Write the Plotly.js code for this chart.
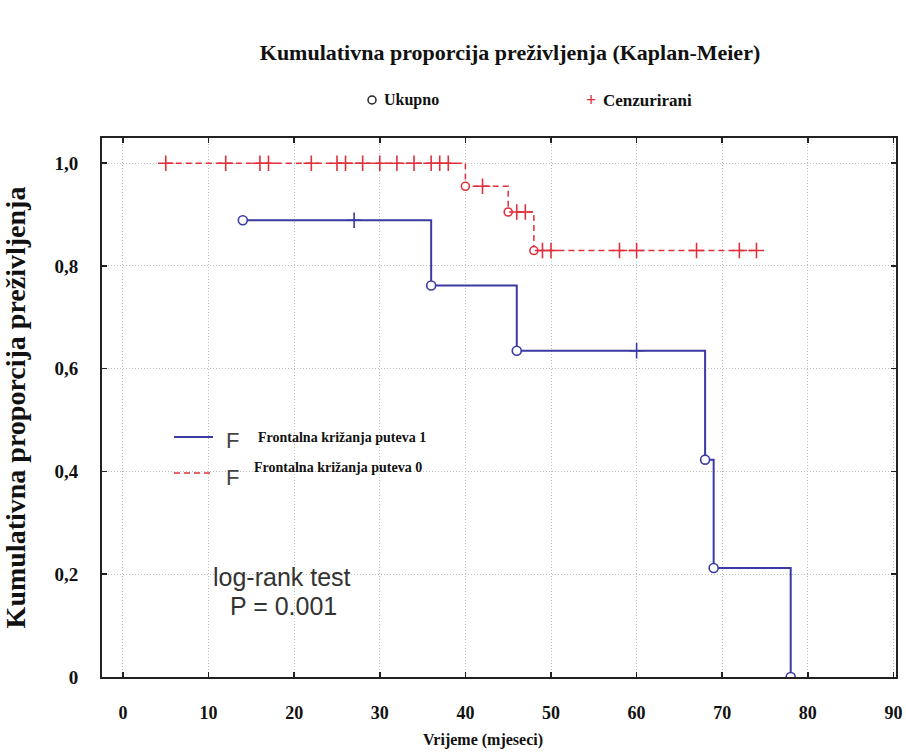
<!DOCTYPE html>
<html>
<head>
<meta charset="utf-8">
<script src="https://cdn.plot.ly/plotly-3.0.1.min.js"></script>
<style>html,body{margin:0;padding:0;background:#fff}</style>
</head>
<body>
<div id="chart" style="width:906px;height:752px"></div>
<script>
// Kaplan-Meier estimates: time (months), survival proportion, censored flag (1 = censored)
const groupNames = ['Frontalna križanja puteva 1', 'Frontalna križanja puteva 0'];

const timesG1 = [14, 27, 36, 46, 60, 68, 69, 78];
const survG1  = [0.889, 0.889, 0.762, 0.635, 0.635, 0.423, 0.212, 0];
const censG1  = [0, 1, 0, 0, 1, 0, 0, 0];

const timesG0 = [5, 12, 16, 17, 22, 25, 26, 28, 30, 32, 34, 36, 37, 38,
                 40, 42, 45, 46, 47, 48, 49, 50, 58, 60, 67, 72, 74];
const survG0  = [1, 1, 1, 1, 1, 1, 1, 1, 1, 1, 1, 1, 1, 1,
                 0.955, 0.955, 0.905, 0.905, 0.905, 0.83, 0.83, 0.83, 0.83, 0.83, 0.83, 0.83, 0.83];
const censG0  = [1, 1, 1, 1, 1, 1, 1, 1, 1, 1, 1, 1, 1, 1,
                 0, 1, 0, 1, 1, 0, 1, 1, 1, 1, 1, 1, 1];

const xTickVals = [0, 10, 20, 30, 40, 50, 60, 70, 80, 90];
const yTickVals = [0, 0.2, 0.4, 0.6, 0.8, 1.0];
const yTickText = ['0', '0,2', '0,4', '0,6', '0,8', '1,0'];

const BLUE = '#3a3aa4';
const RED = '#e0303c';
const SERIF = 'Liberation Serif, Times New Roman, serif';
const SANS = 'Liberation Sans, Arial, sans-serif';

// plot area in pixels, used to place the free-standing labels
const PL = 102, PR = 896, PT = 138, PB = 677;
const px = v => (v - PL) / (PR - PL);
const py = v => (PB - v) / (PB - PT);

function pick(arr, flags, want) {
  return arr.filter((_, i) => flags[i] === want);
}

function groupTraces(times, surv, cens, color, dash, width, circleSize, crossSize) {
  return [
    { // step curve
      x: times, y: surv, type: 'scatter', mode: 'lines',
      line: { shape: 'hv', color: color, width: width, dash: dash },
      showlegend: false, hoverinfo: 'skip'
    },
    { // complete observations (events)
      x: pick(times, cens, 0), y: pick(surv, cens, 0), type: 'scatter', mode: 'markers',
      marker: { symbol: 'circle', size: circleSize, color: '#ffffff', line: { color: color, width: 1.6 } },
      showlegend: false, hoverinfo: 'skip'
    },
    { // censored observations
      x: pick(times, cens, 1), y: pick(surv, cens, 1), type: 'scatter', mode: 'markers',
      marker: { symbol: 'cross-thin', size: crossSize, color: color, line: { color: color, width: 1.6 } },
      showlegend: false, hoverinfo: 'skip'
    }
  ];
}

const data = [
  ...groupTraces(timesG0, survG0, censG0, RED, '6px,4px', 1.5, 8, 11),
  ...groupTraces(timesG1, survG1, censG1, BLUE, 'solid', 2, 9, 11)
];

const axisCommon = {
  showline: true, linecolor: '#222', linewidth: 2, mirror: 'ticks',
  ticks: 'inside', ticklen: 5, tickcolor: '#222', tickwidth: 1.5,
  showgrid: true, gridcolor: '#bdbdbd', gridwidth: 1, griddash: '1px,2px',
  zeroline: false, fixedrange: true
};

const layout = {
  width: 906, height: 752,
  margin: { l: PL, r: 906 - PR, t: PT, b: 752 - PB, pad: 0 },
  paper_bgcolor: '#ffffff', plot_bgcolor: '#ffffff',
  showlegend: false,
  title: {
    text: '<b>Kumulativna proporcija preživljenja (Kaplan-Meier)</b>',
    font: { family: SERIF, size: 22, color: '#111' },
    xref: 'paper', x: px(510), xanchor: 'center',
    yref: 'container', y: 1 - 52 / 752, yanchor: 'middle'
  },
  xaxis: Object.assign({}, axisCommon, {
    range: [-2.45, 90.3],
    tickvals: xTickVals,
    ticktext: xTickVals.map(String),
    tickfont: { family: SERIF, size: 18, color: '#111', weight: 'bold' },
    ticklabelstandoff: 18
  }),
  yaxis: Object.assign({}, axisCommon, {
    range: [0, 1.049],
    tickvals: yTickVals,
    ticktext: yTickText,
    tickfont: { family: SERIF, size: 19, color: '#111', weight: 'bold' },
    ticklabelstandoff: 18,
    title: { text: '<b>Kumulativna proporcija preživljenja</b>', font: { family: SERIF, size: 28, color: '#111' }, standoff: 23 }
  }),
  shapes: [
    // key above the plot: circle marks an observed event
    { type: 'circle', xref: 'paper', yref: 'paper',
      x0: px(368), x1: px(376), y0: py(104), y1: py(96),
      line: { color: '#222', width: 1.5 }, fillcolor: 'rgba(0,0,0,0)' },
    // curve key inside the plot
    { type: 'line', xref: 'paper', yref: 'paper',
      x0: px(174), x1: px(213), y0: py(437), y1: py(437),
      line: { color: BLUE, width: 2 } },
    { type: 'line', xref: 'paper', yref: 'paper',
      x0: px(174), x1: px(213), y0: py(473), y1: py(473),
      line: { color: RED, width: 1.5, dash: '6px,4px' } }
  ],
  annotations: [
    // time axis caption
    { xref: 'paper', yref: 'paper', x: px(483), y: py(740), xanchor: 'center', yanchor: 'middle',
      text: '<b>Vrijeme (mjeseci)</b>', showarrow: false, font: { family: SERIF, size: 16, color: '#111' } },

    { xref: 'paper', yref: 'paper', x: px(382), y: py(100), xanchor: 'left', yanchor: 'middle',
      text: '<b>Ukupno</b>', showarrow: false, font: { family: SERIF, size: 16, color: '#111' } },
    { xref: 'paper', yref: 'paper', x: px(591), y: py(100), xanchor: 'center', yanchor: 'middle',
      text: '<b>+</b>', showarrow: false, font: { family: SERIF, size: 18, color: RED } },
    { xref: 'paper', yref: 'paper', x: px(601), y: py(100), xanchor: 'left', yanchor: 'middle',
      text: '<b>Cenzurirani</b>', showarrow: false, font: { family: SERIF, size: 17, color: '#111' } },

    { xref: 'paper', yref: 'paper', x: px(232), y: py(440), xanchor: 'center', yanchor: 'middle',
      text: 'F', showarrow: false, font: { family: SANS, size: 22, color: '#444' } },
    { xref: 'paper', yref: 'paper', x: px(256), y: py(437), xanchor: 'left', yanchor: 'middle',
      text: '<b>' + groupNames[0] + '</b>', showarrow: false, font: { family: SERIF, size: 14, color: '#111' } },
    { xref: 'paper', yref: 'paper', x: px(232), y: py(477), xanchor: 'center', yanchor: 'middle',
      text: 'F', showarrow: false, font: { family: SANS, size: 22, color: '#444' } },
    { xref: 'paper', yref: 'paper', x: px(252), y: py(467), xanchor: 'left', yanchor: 'middle',
      text: '<b>' + groupNames[1] + '</b>', showarrow: false, font: { family: SERIF, size: 14, color: '#111' } },

    { xref: 'paper', yref: 'paper', x: px(282), y: py(577), xanchor: 'center', yanchor: 'middle',
      text: 'log-rank test', showarrow: false, font: { family: SANS, size: 25, color: '#333' } },
    { xref: 'paper', yref: 'paper', x: px(283), y: py(606), xanchor: 'center', yanchor: 'middle',
      text: 'P = 0.001', showarrow: false, font: { family: SANS, size: 25, color: '#333' } }
  ]
};

Plotly.newPlot('chart', data, layout, { displayModeBar: false, staticPlot: true });
</script>
</body>
</html>
